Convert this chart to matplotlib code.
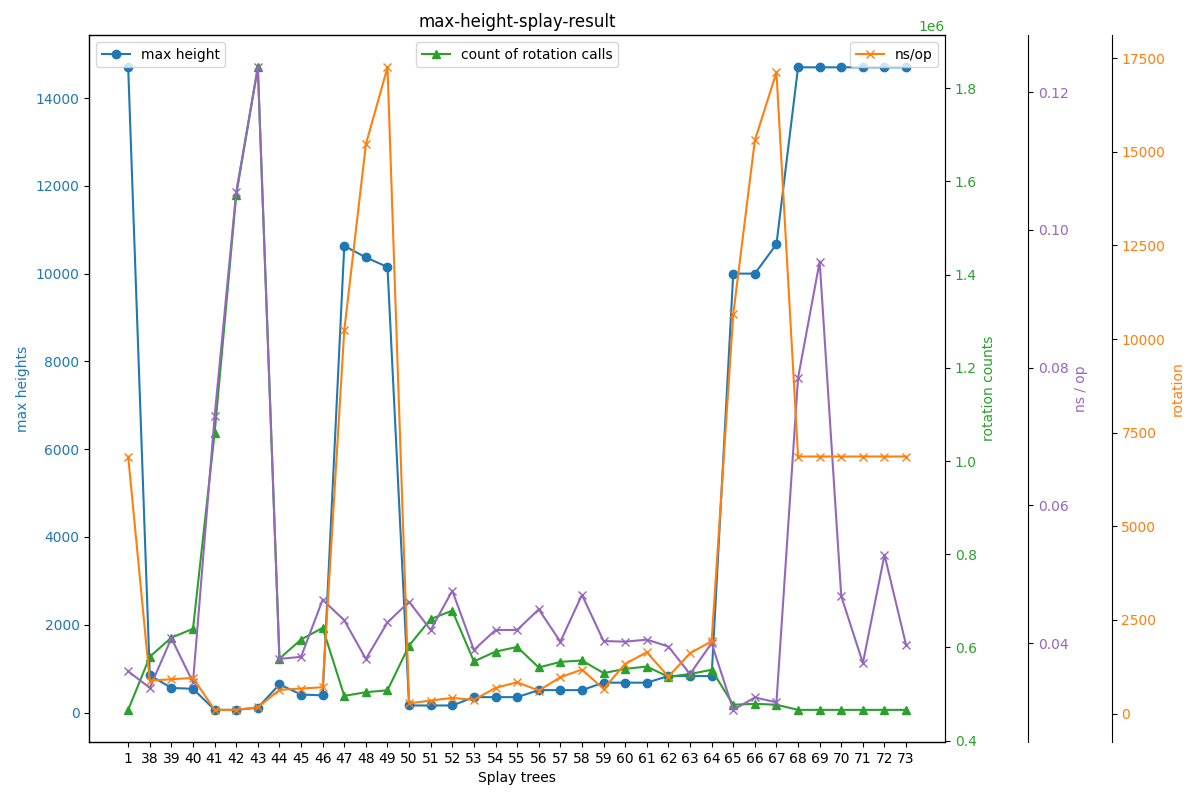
import numpy as np
import matplotlib.pyplot as plt

# splay tree ids on the x axis
trees = ['1'] + [str(n) for n in range(38, 74)]

max_heights = [14700, 850, 560, 540, 60, 60, 110, 640, 410, 390,
               10630, 10370, 10150, 160, 160, 160, 350, 350, 350, 510,
               510, 510, 680, 680, 680, 830, 830, 830, 10000, 10000,
               10670, 14700, 14700, 14700, 14700, 14700, 14700]

rotation_calls = [466000, 580000, 621000, 640000, 1060000, 1571000, 1845000,
                  576000, 617000, 642000, 496000, 504000, 508000, 604000,
                  661000, 679000, 570000, 591000, 601000, 557000, 569000,
                  572000, 545000, 554000, 559000, 537000, 543000, 552000,
                  477000, 479000, 477000, 466000, 466000, 466000, 466000,
                  466000, 466000]

ns_per_op = [0.0359, 0.0335, 0.0407, 0.0343, 0.0729, 0.1055, 0.1236, 0.0377,
             0.0380, 0.0463, 0.0433, 0.0377, 0.0430, 0.0460, 0.0419, 0.0476,
             0.0390, 0.0419, 0.0419, 0.0449, 0.0402, 0.0470, 0.0403, 0.0402,
             0.0405, 0.0395, 0.0355, 0.0400, 0.0303, 0.0321, 0.0314, 0.0785,
             0.0954, 0.0468, 0.0371, 0.0528, 0.0397]

rotation = [6864, 881, 916, 953, 99, 99, 168, 633, 668, 703,
            10230, 15198, 17255, 275, 347, 419, 366, 686, 836, 614,
            970, 1175, 659, 1327, 1638, 988, 1611, 1931, 10657, 15305,
            17121, 6864, 6864, 6864, 6864, 6864, 6864]

fig, ax1 = plt.subplots(figsize=(12, 8), dpi=100)
fig.subplots_adjust(left=0.0744, right=0.7875, top=0.956, bottom=0.0725)

# max height
ax1.plot(trees, max_heights, color='tab:blue', marker='o', label='max height')
ax1.set_xlabel('Splay trees')
ax1.set_ylabel('max heights', color='tab:blue')
ax1.tick_params(axis='y', labelcolor='tab:blue')
ax1.set_title('max-height-splay-result')
ax1.legend(loc='upper left')

# rotation counts
ax2 = ax1.twinx()
ax2.plot(trees, rotation_calls, color='tab:green', marker='^',
         label='count of rotation calls')
ax2.set_ylabel('rotation counts', color='tab:green')
ax2.tick_params(axis='y', labelcolor='tab:green')
ax2.yaxis.get_offset_text().set_color('tab:green')
ax2.legend(loc='upper center')

# ns/op
ax3 = ax1.twinx()
ax3.spines['right'].set_position(('outward', 60))
ax3.plot(trees, ns_per_op, color='tab:purple', marker='x')
ax3.set_ylabel('ns / op', color='tab:purple')
ax3.tick_params(axis='y', labelcolor='tab:purple')

# rotation
ax4 = ax1.twinx()
ax4.spines['right'].set_position(('outward', 120))
ax4.plot(trees, rotation, color='tab:orange', marker='x', label='ns/op')
ax4.set_ylabel('rotation', color='tab:orange')
ax4.tick_params(axis='y', labelcolor='tab:orange')
ax4.legend(loc='upper right')

plt.savefig('out.png')
